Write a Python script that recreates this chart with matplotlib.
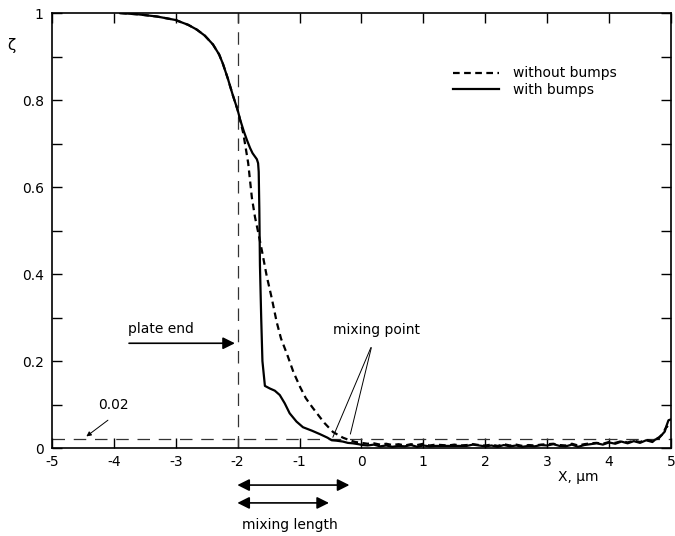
#!/usr/bin/env python3
"""Concentration profile zeta(X) with and without bumps near the plate end."""

import matplotlib
matplotlib.use("Agg")
import matplotlib.pyplot as plt

plt.rcParams["font.family"] = "DejaVu Sans"
plt.rcParams["axes.unicode_minus"] = False

# curve with bumps (solid)
x_bumps = [-3.9, -3.6, -3.3, -3.0, -2.93, -2.8, -2.66, -2.53, -2.4, -2.3, -2.24,
           -2.16, -2.08, -2.0, -1.96, -1.9, -1.85, -1.8, -1.76, -1.72, -1.69,
           -1.67, -1.66, -1.65, -1.64, -1.62, -1.6, -1.56, -1.48, -1.4, -1.32,
           -1.24, -1.16, -1.05, -0.945, -0.8, -0.67, -0.55, -0.48, -0.4, -0.3,
           -0.22, -0.14, -0.05, 0.02,
           0.1, 0.2, 0.3, 0.4, 0.5, 0.6, 0.7, 0.8, 0.9, 1.0, 1.1, 1.2, 1.3,
           1.4, 1.5, 1.6, 1.7, 1.8, 1.9, 2.0, 2.1, 2.2, 2.3, 2.4, 2.5, 2.6,
           2.7, 2.8, 2.9, 3.0, 3.1, 3.2, 3.3, 3.4, 3.5, 3.6, 3.7, 3.8, 3.9,
           4.0, 4.1, 4.2, 4.3, 4.4, 4.5, 4.6, 4.7, 4.75, 4.8, 4.85, 4.9,
           4.93, 4.96, 5.0]
zeta_bumps = [1.0, 0.997, 0.992, 0.984, 0.98, 0.973, 0.962, 0.948, 0.928, 0.905,
              0.884, 0.85, 0.812, 0.777, 0.755, 0.728, 0.708, 0.69, 0.678, 0.67,
              0.664, 0.655, 0.635, 0.55, 0.42, 0.3, 0.2, 0.143, 0.137, 0.132,
              0.122, 0.103, 0.08, 0.061, 0.048, 0.04, 0.032, 0.024, 0.018,
              0.017, 0.015, 0.012, 0.011, 0.009, 0.007,
              0.006, 0.008, 0.004, 0.006, 0.003, 0.005, 0.004, 0.007, 0.003,
              0.006, 0.004, 0.005, 0.005, 0.005, 0.005, 0.005, 0.005, 0.008,
              0.006, 0.004, 0.006, 0.003, 0.007, 0.004, 0.006, 0.003, 0.005,
              0.004, 0.007, 0.006, 0.009, 0.005, 0.004, 0.008, 0.003, 0.007,
              0.009, 0.011, 0.008, 0.013, 0.010, 0.015, 0.011, 0.016, 0.012,
              0.018, 0.014, 0.020, 0.022, 0.030, 0.038, 0.052, 0.064, 0.066]

# curve without bumps (dashed); upstream of the plate end it coincides with the solid one
x_plain = [-3.9, -3.6, -3.3, -3.0, -2.93, -2.8, -2.66, -2.53, -2.4, -2.3, -2.24,
           -2.16, -2.08, -2.0, -1.95,
           -1.91, -1.87, -1.83, -1.8, -1.77, -1.72, -1.67, -1.61, -1.53, -1.45,
           -1.37, -1.3, -1.2, -1.1, -0.99, -0.9, -0.8, -0.72, -0.6, -0.46, -0.3,
           -0.19, -0.1, 0.0,
           0.1, 0.2, 0.3, 0.4, 0.5, 0.6, 0.7, 0.8, 0.9, 1.0, 1.1, 1.2, 1.3,
           1.4, 1.5, 1.6, 1.7, 1.8, 1.9, 2.0, 2.1, 2.2, 2.3, 2.4, 2.5, 2.6,
           2.7, 2.8, 2.9, 3.0, 3.1, 3.2, 3.3, 3.4, 3.5, 3.6, 3.7, 3.8, 3.9,
           4.0, 4.1, 4.2, 4.3, 4.4, 4.5, 4.6, 4.7, 4.75, 4.8, 4.85, 4.9,
           4.93, 4.96, 5.0]
zeta_plain = [1.0, 0.997, 0.992, 0.984, 0.98, 0.973, 0.962, 0.948, 0.928, 0.905,
              0.884, 0.85, 0.812, 0.777, 0.748,
              0.724, 0.69, 0.655, 0.615, 0.575, 0.531, 0.497, 0.455, 0.395,
              0.345, 0.29, 0.252, 0.215, 0.175, 0.14, 0.115, 0.095, 0.08, 0.058,
              0.037, 0.024, 0.018, 0.014, 0.012,
              0.010, 0.011, 0.008, 0.010, 0.007, 0.009, 0.006, 0.009, 0.007,
              0.010, 0.006, 0.008, 0.007, 0.006, 0.008, 0.006, 0.007, 0.009,
              0.007, 0.006, 0.008, 0.005, 0.009, 0.006, 0.008, 0.005, 0.007,
              0.006, 0.008, 0.009, 0.010, 0.007, 0.006, 0.010, 0.006, 0.009,
              0.011, 0.012, 0.010, 0.014, 0.012, 0.016, 0.013, 0.017, 0.014,
              0.019, 0.016, 0.021, 0.024, 0.030, 0.042, 0.050, 0.047, 0.048]

x_ticks = [-5, -4, -3, -2, -1, 0, 1, 2, 3, 4, 5]
y_ticks = [0.0, 0.1, 0.2, 0.3, 0.4, 0.5, 0.6, 0.7, 0.8, 0.9, 1.0]
y_tick_labels = ["0", "", "0.2", "", "0.4", "", "0.6", "", "0.8", "", "1"]

plate_end_x = -2.0
threshold = 0.02

fig = plt.figure(figsize=(6.75, 5.36), dpi=100)
ax = fig.add_axes([0.077, 0.164, 0.917, 0.8116])

ax.axvline(plate_end_x, color="#333333", lw=0.9, dashes=(10, 7))
ax.axhline(threshold, color="#333333", lw=0.9, dashes=(10, 7))

line_plain, = ax.plot(x_plain, zeta_plain, color="black", lw=1.6,
                      label="without bumps")
line_plain.set_dashes((3, 2))
ax.plot(x_bumps, zeta_bumps, color="black", lw=1.6, label="with bumps")

ax.set_xlim(-5, 5)
ax.set_ylim(0, 1)
ax.set_xticks(x_ticks)
ax.set_xticklabels([str(t) for t in x_ticks])
ax.set_yticks(y_ticks)
ax.set_yticklabels(y_tick_labels)
ax.tick_params(direction="in", length=7, width=1, top=True, right=True,
               labelsize=10)
ax.tick_params(axis="y", pad=6)
ax.tick_params(axis="x", pad=5)
for spine in ax.spines.values():
    spine.set_linewidth(1.2)

ax.text(-0.065, 0.926, "ζ", transform=ax.transAxes, fontsize=11,
        ha="center", va="center")
ax.text(0.85, -0.067, "X, μm", transform=ax.transAxes, fontsize=10,
        ha="center", va="center")

ax.legend(loc="upper left", bbox_to_anchor=(0.628, 0.906), frameon=False,
          fontsize=10, handlelength=3.3, labelspacing=0.2, handletextpad=1.0)

# annotations
ax.annotate("", xy=(-2.0, 0.241), xytext=(-3.8, 0.241),
            arrowprops=dict(arrowstyle="-|>", color="black", lw=1.2,
                            mutation_scale=18))
ax.text(-3.77, 0.274, "plate end", fontsize=10, ha="left", va="center")

ax.text(-0.46, 0.271, "mixing point", fontsize=10, ha="left", va="center")
for tip in [(-0.48, 0.019), (-0.19, 0.026)]:
    ax.annotate("", xy=tip, xytext=(0.17, 0.237),
                arrowprops=dict(arrowstyle="-", color="black", lw=0.7))

ax.text(-4.0, 0.099, "0.02", fontsize=10, ha="center", va="center")
ax.annotate("", xy=(-4.48, 0.023), xytext=(-4.06, 0.068),
            arrowprops=dict(arrowstyle="-|>", color="black", lw=0.7,
                            mutation_scale=7))

ax.annotate("", xy=(-2.05, -0.085), xytext=(-0.15, -0.085),
            xycoords="data", annotation_clip=False,
            arrowprops=dict(arrowstyle="<|-|>", color="black", lw=1.2,
                            mutation_scale=18))
ax.annotate("", xy=(-2.05, -0.126), xytext=(-0.48, -0.126),
            xycoords="data", annotation_clip=False,
            arrowprops=dict(arrowstyle="<|-|>", color="black", lw=1.2,
                            mutation_scale=18))
ax.text(-1.15, -0.177, "mixing length", fontsize=10, ha="center",
        va="center", clip_on=False)

fig.savefig("out.png", dpi=100)
